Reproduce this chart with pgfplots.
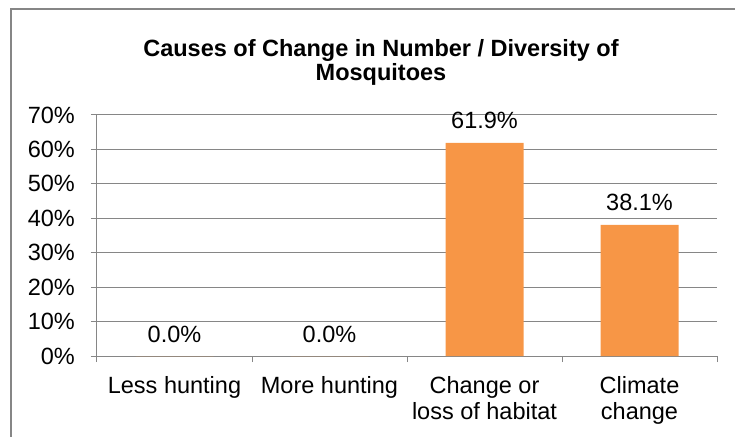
\documentclass[border=0pt]{standalone}
\usepackage{pgfplots}
\pgfplotsset{compat=1.18}
\usepackage{fontspec}
\setmainfont{Liberation Sans}
\definecolor{barorange}{HTML}{F79646}
\definecolor{gridgray}{HTML}{868686}
\newcommand{\chartfont}{\fontsize{23.5}{26}\selectfont}
\begin{document}
\begin{tikzpicture}[x=1pt,y=1pt]
\useasboundingbox (-97,-80) rectangle (638,356);
\draw[gridgray, line width=1.4pt] (-86,-81) -- (-86,347) -- (639,347);
\node[font=\chartfont\bfseries, anchor=base] at (284,299) {Causes of Change in Number / Diversity of};
\node[font=\chartfont\bfseries, anchor=base] at (284,275) {Mosquitoes};
\begin{axis}[
  at={(0,0)}, anchor=south west, scale only axis,
  width=620pt, height=241pt,
  ymin=0, ymax=70, xmin=-0.5, xmax=3.5,
  ybar, bar width=78pt,
  axis lines*=left,
  axis line style={gridgray, line width=1pt},
  ymajorgrids, grid style={gridgray, line width=1pt},
  ytick={0,10,20,30,40,50,60,70},
  yticklabels={0\%,10\%,20\%,30\%,40\%,50\%,60\%,70\%},
  yticklabel style={font=\chartfont, anchor=east, inner sep=0pt, xshift=-16pt},
  xtick={0,1,2,3},
  xticklabels={Less hunting, More hunting, Change or\\loss of habitat, Climate\\change},
  xticklabel style={font=\chartfont, align=center, anchor=north, inner sep=0pt, yshift=-14pt},
  minor xtick={-0.5,0.5,1.5,2.5,3.5},
  tick align=outside,
  major tick length=6pt, minor tick length=6pt,
  major x tick style={draw=none},
  tick style={gridgray, line width=1pt},
  nodes near coords={\pgfmathprintnumber[fixed,fixed zerofill,precision=1,assume math mode=true]{\pgfplotspointmeta}\%},
  nodes near coords style={font=\chartfont, anchor=base, inner sep=0pt, yshift=14pt},
  clip=false,
]
\addplot[fill=barorange, draw=none] coordinates {(0,0) (1,0) (2,61.9) (3,38.1)};
\end{axis}
\end{tikzpicture}
\end{document}
